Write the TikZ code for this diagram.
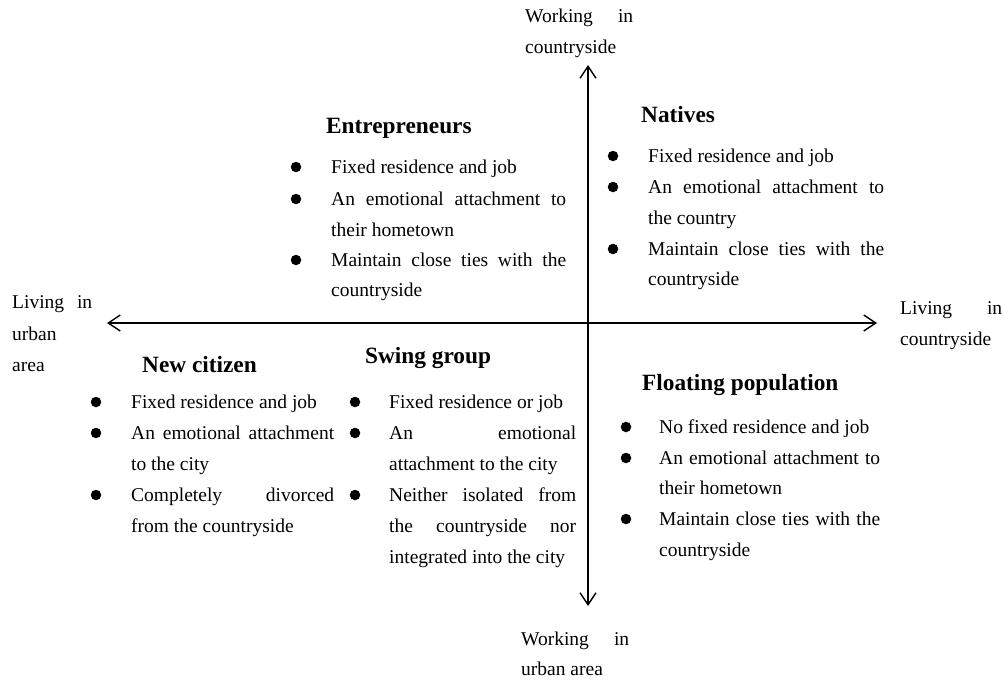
\documentclass[tikz,border=0pt]{standalone}
\usepackage{fontspec}
\setmainfont{Liberation Serif}
\usetikzlibrary{arrows.meta}
\newcommand{\bodysize}{\fontsize{19.5}{30.8}\selectfont}
\newcommand{\headsize}{\fontsize{23.3}{28}\selectfont\bfseries}
% a line stretched to the full column width (justified)
\newcommand{\jline}[2]{\makebox[#1pt][s]{#2}}

\begin{document}
\begin{tikzpicture}[x=1pt,y=-1pt,
  txt/.style={anchor=base west,inner sep=0pt,font=\bodysize},
  head/.style={anchor=base west,inner sep=0pt,font=\headsize},
  dot/.style={circle,fill=black,inner sep=0pt,minimum size=10.5pt},
  axis/.style={line width=1.4pt,
    {Straight Barb[length=12pt,width=16pt]}-{Straight Barb[length=12pt,width=16pt]}}]
\useasboundingbox (0,0) rectangle (1003,680);

% axes
\coordinate (L) at (107,323);
\coordinate (R) at (877,323);
\coordinate (T) at (588,65);
\coordinate (B) at (588,606);
\draw[axis] (L) -- (R);
\draw[axis] (T) -- (B);

% axis labels
\node[txt] (top1) at (525,23) {\jline{108}{Working in}};
\node[txt] (top2) at (525,53) {countryside};
\node[txt] (lft1) at (12,308) {\jline{80}{Living in}};
\node[txt] (lft2) at (12,340) {urban};
\node[txt] (lft3) at (12,371) {area};
\node[txt] (rgt1) at (900,314) {\jline{102}{Living in}};
\node[txt] (rgt2) at (900,345) {countryside};
\node[txt] (bot1) at (521,645) {\jline{108}{Working in}};
\node[txt] (bot2) at (521,675) {urban area};

% Entrepreneurs
\node[head] (ent) at (326,133) {Entrepreneurs};
\node[dot] (entb1) at (296,167) {};
\node[dot] (entb2) at (296,199) {};
\node[dot] (entb3) at (296,260) {};
\node[txt] (ent1) at (331,173) {Fixed residence and job};
\node[txt] (ent2) at (331,205) {\jline{235}{An emotional attachment to}};
\node[txt] (ent3) at (331,236) {their hometown};
\node[txt] (ent4) at (331,266) {\jline{235}{Maintain close ties with the}};
\node[txt] (ent5) at (331,296) {countryside};

% Natives
\node[head] (nat) at (641,122) {Natives};
\node[dot] (natb1) at (613,156) {};
\node[dot] (natb2) at (613,187) {};
\node[dot] (natb3) at (613,249) {};
\node[txt] (nat1) at (648,162) {Fixed residence and job};
\node[txt] (nat2) at (648,193) {\jline{236}{An emotional attachment to}};
\node[txt] (nat3) at (648,224) {the country};
\node[txt] (nat4) at (648,255) {\jline{236}{Maintain close ties with the}};
\node[txt] (nat5) at (648,285) {countryside};

% New citizen
\node[head] (nc) at (142,372) {New citizen};
\node[dot] (ncb1) at (96,402) {};
\node[dot] (ncb2) at (96,433) {};
\node[dot] (ncb3) at (96,495) {};
\node[txt] (nc1) at (131,408) {Fixed residence and job};
\node[txt] (nc2) at (131,439) {\jline{203}{An emotional attachment}};
\node[txt] (nc3) at (131,470) {to the city};
\node[txt] (nc4) at (131,501) {\jline{203}{Completely divorced}};
\node[txt] (nc5) at (131,532) {from the countryside};

% Swing group
\node[head] (sw) at (365,363) {Swing group};
\node[dot] (swb1) at (355,402) {};
\node[dot] (swb2) at (355,433) {};
\node[dot] (swb3) at (355,495) {};
\node[txt] (sw1) at (389,408) {Fixed residence or job};
\node[txt] (sw2) at (389,439) {\jline{187}{An emotional}};
\node[txt] (sw3) at (389,470) {attachment to the city};
\node[txt] (sw4) at (389,501) {\jline{187}{Neither isolated from}};
\node[txt] (sw5) at (389,532) {\jline{187}{the countryside nor}};
\node[txt] (sw6) at (389,563) {integrated into the city};

% Floating population
\node[head] (fp) at (642,390) {Floating population};
\node[dot] (fpb1) at (626,427) {};
\node[dot] (fpb2) at (626,458) {};
\node[dot] (fpb3) at (626,519) {};
\node[txt] (fp1) at (659,433) {No fixed residence and job};
\node[txt] (fp2) at (659,464) {\jline{221}{An emotional attachment to}};
\node[txt] (fp3) at (659,494) {their hometown};
\node[txt] (fp4) at (659,525) {\jline{221}{Maintain close ties with the}};
\node[txt] (fp5) at (659,556) {countryside};
\end{tikzpicture}
\end{document}
